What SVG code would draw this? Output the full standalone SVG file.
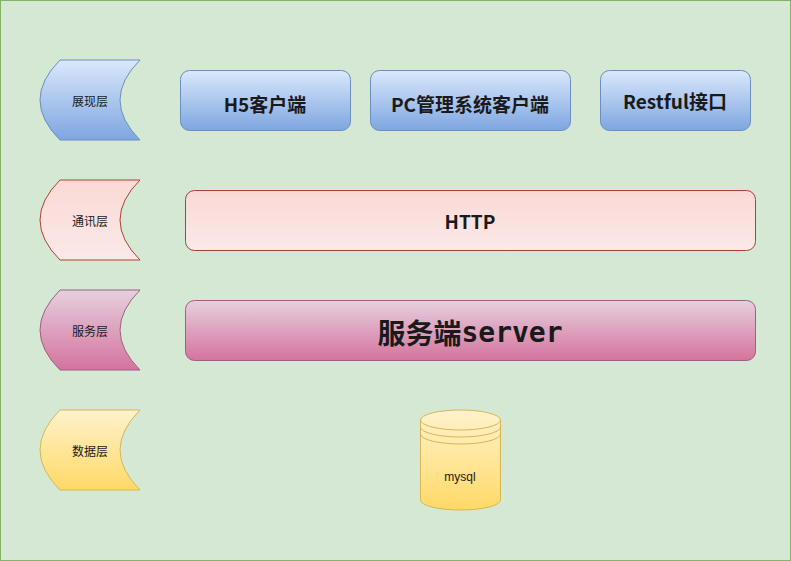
<svg xmlns="http://www.w3.org/2000/svg" width="791" height="561" viewBox="0 0 791 561">
<defs>
<linearGradient id="gb" x1="0" y1="0" x2="0" y2="1"><stop offset="0" stop-color="#dae8fc"/><stop offset="1" stop-color="#7ea6e0"/></linearGradient>
<linearGradient id="gr" x1="0" y1="0" x2="0" y2="1"><stop offset="0" stop-color="#fad9d5"/><stop offset="1" stop-color="#fbe9e8"/></linearGradient>
<linearGradient id="gp" x1="0" y1="0" x2="0" y2="1"><stop offset="0" stop-color="#e6d0de"/><stop offset="1" stop-color="#d5739d"/></linearGradient>
<linearGradient id="gy" x1="0" y1="0" x2="0" y2="1"><stop offset="0" stop-color="#fff2cc"/><stop offset="1" stop-color="#ffd966"/></linearGradient>
</defs>
<style>
.t{font-family:"Noto Sans CJK SC","Noto Sans",sans-serif;fill:#1a1a1a;text-anchor:middle;dominant-baseline:central}
.s{font-size:12px}
.b{font-weight:bold;font-size:19px}
</style>
<rect x="0.5" y="0.5" width="790" height="560" fill="#d5e8d4" stroke="#82b366"/>
<g id="l1"><path d="M60,60 L140,60 Q100,100 140,140 L60,140 Q20,100 60,60 Z" fill="url(#gb)" stroke="#6c8ebf"/><text class="t s" x="90" y="100">展现层</text></g>
<g id="l2"><path d="M60,180 L140,180 Q100,220 140,260 L60,260 Q20,220 60,180 Z" fill="url(#gr)" stroke="#ae4132"/><text class="t s" x="90" y="220">通讯层</text></g>
<g id="l3"><path d="M60,290 L140,290 Q100,330 140,370 L60,370 Q20,330 60,290 Z" fill="url(#gp)" stroke="#996185"/><text class="t s" x="90" y="330">服务层</text></g>
<g id="l4"><path d="M60,410 L140,410 Q100,450 140,490 L60,490 Q20,450 60,410 Z" fill="url(#gy)" stroke="#d6b656"/><text class="t s" x="90" y="450">数据层</text></g>
<g id="h5"><rect x="180.5" y="70.5" width="170" height="60" rx="9" fill="url(#gb)" stroke="#6c8ebf"/><text class="t b" x="265" y="103">H5客户端</text></g>
<g id="pc"><rect x="370.5" y="70.5" width="200" height="60" rx="9" fill="url(#gb)" stroke="#6c8ebf"/><text class="t b" x="470" y="103">PC管理系统客户端</text></g>
<g id="rest"><rect x="600.5" y="70.5" width="150" height="60" rx="9" fill="url(#gb)" stroke="#6c8ebf"/><text class="t b" x="675" y="100">Restful接口</text></g>
<g id="http"><rect x="185.5" y="190.5" width="570" height="60" rx="9" fill="url(#gr)" stroke="#ae4132"/><text class="t b" x="470" y="220">HTTP</text></g>
<g id="server"><rect x="185.5" y="300.5" width="570" height="60" rx="9" fill="url(#gp)" stroke="#996185"/><text class="t" x="470" y="332" style="font-size:28px;font-weight:bold">服务端<tspan style="font-family:'DejaVu Sans Mono',monospace">server</tspan></text></g>
<g id="db"><path d="M420.5,420 A40,10 0 0 1 500.5,420 L500.5,500 A40,10 0 0 1 420.5,500 Z" fill="url(#gy)" stroke="#d6b656"/><path d="M420.5,420 A40,10 0 0 0 500.5,420 M420.5,427 A40,10 0 0 0 500.5,427 M420.5,434 A40,10 0 0 0 500.5,434" fill="none" stroke="#d6b656"/><text class="t s" x="460" y="477" style="font-family:'Liberation Sans',sans-serif">mysql</text></g>
<g id="connectors"/>
</svg>
